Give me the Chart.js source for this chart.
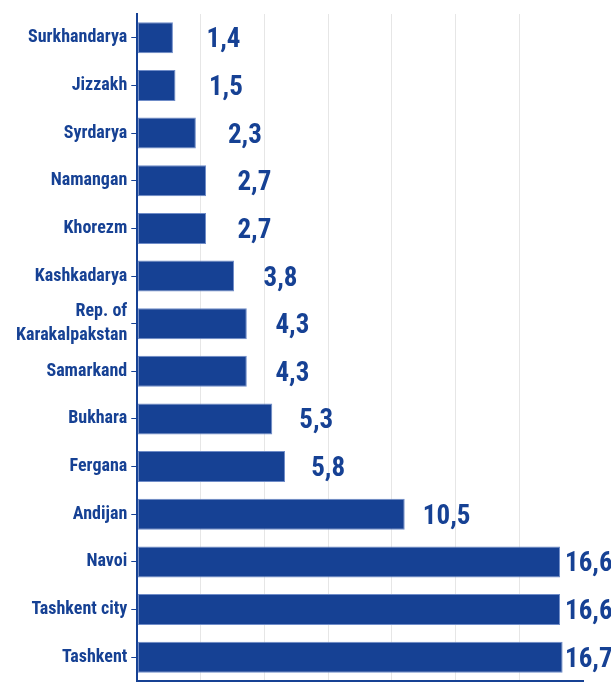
<!DOCTYPE html>
<html>
<head>
<meta charset="utf-8">
<script src="https://cdn.jsdelivr.net/npm/chart.js@4.4.1/dist/chart.umd.min.js"></script>
<style>
    html, body { margin: 0; padding: 0; background: #fff; }
    #wrap { width: 611px; height: 682px; }
</style>
</head>
<body>
<div id="wrap"><canvas id="regionChart"></canvas></div>
<script>
// Chart data
const regions = ['Surkhandarya', 'Jizzakh', 'Syrdarya', 'Namangan', 'Khorezm', 'Kashkadarya',
    ['Rep. of', 'Karakalpakstan'], 'Samarkand', 'Bukhara', 'Fergana', 'Andijan', 'Navoi',
    'Tashkent city', 'Tashkent'];
const shares = [1.4, 1.5, 2.3, 2.7, 2.7, 3.8, 4.3, 4.3, 5.3, 5.8, 10.5, 16.6, 16.6, 16.7];
const xTicks = [0, 2.5, 5, 7.5, 10, 12.5, 15, 17.5];

const blue = '#164194';
const narrow = "'Liberation Sans Narrow', 'Arial Narrow', 'Roboto Condensed', sans-serif";

// Value labels at bar ends
const valueLabels = {
    id: 'valueLabels',
    afterDatasetsDraw(chart) {
        const ctx = chart.ctx;
        const meta = chart.getDatasetMeta(0);
        const xScale = chart.scales.x;
        ctx.save();
        ctx.font = 'bold 27px ' + narrow;
        ctx.fillStyle = blue;
        ctx.textAlign = 'left';
        ctx.textBaseline = 'alphabetic';
        meta.data.forEach((bar, i) => {
            const v = shares[i];
            let x = xScale.getPixelForValue(v) + 36 - 1.7 * v;
            x = Math.min(x, chart.chartArea.right - 18);
            ctx.fillText(v.toFixed(1).replace('.', ','), x, bar.y + 9.5);
        });
        ctx.restore();
    }
};

const ctx = document.getElementById('regionChart').getContext('2d');
new Chart(ctx, {
    type: 'bar',
    data: {
        labels: regions,
        datasets: [{
            data: shares,
            backgroundColor: blue,
            borderColor: '#6f8cc8',
            borderWidth: 1,
            borderSkipped: false,
            barPercentage: 0.65,
            categoryPercentage: 1
        }]
    },
    options: {
        indexAxis: 'y',
        responsive: true,
        maintainAspectRatio: false,
        animation: false,
        layout: { padding: { top: 14, right: 28, bottom: 1, left: 12 } },
        plugins: {
            legend: { display: false },
            tooltip: { enabled: false }
        },
        scales: {
            x: {
                min: 0,
                max: 17.5,
                afterBuildTicks: axis => { axis.ticks = xTicks.map(v => ({ value: v })); },
                ticks: { display: false },
                grid: {
                    color: c => (c.tick && (c.tick.value === 0 || c.tick.value === 17.5)) ? 'rgba(0,0,0,0)' : '#e6e6e6',
                    lineWidth: 1,
                    tickLength: 0,
                    drawTicks: false
                },
                border: { display: true, color: blue, width: 2 }
            },
            y: {
                afterFit: scale => { scale.paddingTop = 0; scale.paddingBottom = 0; },
                ticks: {
                    autoSkip: false,
                    color: blue,
                    padding: 4,
                    font: { family: narrow, size: 18, weight: 'bold', lineHeight: 1.33 }
                },
                grid: {
                    offset: false,
                    drawOnChartArea: false,
                    color: blue,
                    tickLength: 6,
                    lineWidth: 1
                },
                border: { display: true, color: blue, width: 2 }
            }
        }
    },
    plugins: [valueLabels]
});
</script>
</body>
</html>
